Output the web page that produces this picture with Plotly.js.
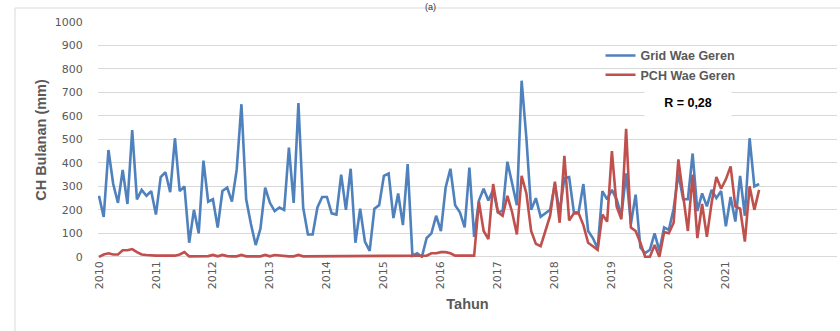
<!DOCTYPE html>
<html>
<head>
<meta charset="utf-8">
<script src="https://cdn.plot.ly/plotly-3.0.1.min.js"></script>
<style>html,body{margin:0;padding:0;background:#fff;}#chart{width:840px;height:331px;}</style>
</head>
<body>
<div id="chart"></div>
<script>
// Monthly rainfall, Jan 2010 .. Aug 2021 (mm)
var years = ["2010","2011","2012","2013","2014","2015","2016","2017","2018","2019","2020","2021"];

var gridWaeGeren = [
  260,170,455,310,230,370,225,540,245,285,260,280,
  180,340,360,275,505,280,300,60,200,100,410,235,
  245,125,280,295,235,370,650,245,140,50,120,295,
  230,195,210,200,465,230,655,210,95,95,210,255,
  255,185,180,350,200,375,60,205,65,25,205,220,
  345,355,165,270,135,395,5,15,0,80,100,175,
  110,295,375,220,190,125,380,85,240,290,240,285,
  190,195,405,310,220,750,505,200,250,170,185,200,
  310,190,335,340,190,190,310,110,80,35,280,245,
  285,245,175,355,140,265,40,15,30,100,25,125,
  115,205,355,245,245,440,195,270,215,285,250,280,
  130,255,150,345,175,505,300,310
];

var pchWaeGeren = [
  0,10,15,10,10,28,28,33,20,10,8,5,
  5,5,5,5,5,10,20,2,2,3,5,3,
  8,2,8,3,2,2,8,2,2,2,2,8,
  2,8,5,3,2,2,8,2,2,2,5,2,
  2,5,2,2,2,2,2,2,2,2,2,2,
  2,2,2,3,5,5,5,5,5,5,15,15,
  20,20,15,5,5,5,5,5,235,110,75,310,
  190,175,260,190,95,345,270,110,55,45,110,175,
  320,145,430,155,185,185,135,60,45,30,180,150,
  450,215,160,545,125,110,60,0,0,50,0,105,
  100,145,415,260,110,350,80,225,85,230,340,290,
  330,385,215,205,65,300,200,285
];

function monthIndex(n){ var a=[]; for(var i=0;i<n;i++) a.push(i); return a; }
var tickVals = years.map(function(y,k){ return k*12; });

var tickFont = {family:"DejaVu Sans", size:11, color:"#595959"};

var traces = [
  {x: monthIndex(gridWaeGeren.length), y: gridWaeGeren, type:"scatter", mode:"lines",
   name:"Grid Wae Geren", line:{color:"#4F81BD", width:2.6}},
  {x: monthIndex(pchWaeGeren.length), y: pchWaeGeren, type:"scatter", mode:"lines",
   name:"PCH Wae Geren", line:{color:"#C0504D", width:2.6}}
];

var layout = {
  width:840, height:331,
  margin:{l:98, r:3, t:22, b:73},
  paper_bgcolor:"#fff", plot_bgcolor:"#fff",
  showlegend:true,
  legend:{x:0.680, y:0.92, xanchor:"left", yanchor:"top", bgcolor:"rgba(0,0,0,0)",
          font:{family:"Liberation Sans", size:12.5, color:"#595959", weight:"bold"},
          itemwidth:30, tracegroupgap:0},
  xaxis:{range:[-0.2,155.4], tickvals:tickVals, ticktext:years, tickangle:-90,
         tickfont:tickFont, showgrid:false, zeroline:false, showline:false,
         ticks:"", 
         title:{text:"Tahun", standoff:10, font:{family:"Liberation Sans", size:14.5, color:"#595959", weight:"bold"}}},
  yaxis:{range:[-5,1000], dtick:100, tick0:0, tickfont:tickFont,
         showgrid:true, gridcolor:"#D9D9D9", gridwidth:1, zeroline:false, showline:false,
         ticks:"outside", ticklen:12, tickcolor:"rgba(0,0,0,0)",
         title:{text:"CH Bulanan (mm)", standoff:4, font:{family:"Liberation Sans", size:14.5, color:"#595959", weight:"bold"}}},
  annotations:[
    {xref:"paper", yref:"paper", x:(688-98)/739, y:(258-103)/236, xanchor:"center", yanchor:"middle",
     text:"<b>R = 0,28</b>", showarrow:false, bgcolor:"#fff", width:84, height:26,
     font:{family:"Liberation Sans", size:12.5, color:"#000"}},
    {xref:"paper", yref:"paper", x:(430-98)/739, y:(258-0)/236, xanchor:"center", yanchor:"top",
     text:"(a)", showarrow:false, font:{family:"Liberation Sans", size:9, color:"#333"}}
  ],
  shapes:[
    {type:"rect", xref:"paper", yref:"paper", x0:(15-98)/739, x1:(860-98)/739,
     y0:(258-345)/236, y1:(258-8)/236, line:{color:"#D9D9D9", width:1}, fillcolor:"rgba(0,0,0,0)", layer:"below"}
  ]
};

Plotly.newPlot("chart", traces, layout, {displayModeBar:false, staticPlot:true});
</script>
</body>
</html>
